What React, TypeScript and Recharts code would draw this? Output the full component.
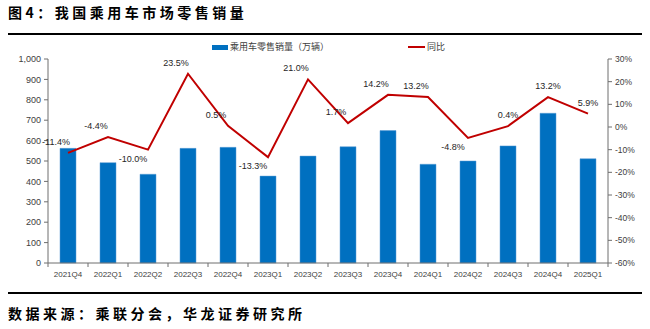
import React from "react";
import { ComposedChart, Bar, Line, XAxis, YAxis, LabelList } from "recharts";

const quarters = [
  "2021Q4", "2022Q1", "2022Q2", "2022Q3", "2022Q4", "2023Q1", "2023Q2",
  "2023Q3", "2023Q4", "2024Q1", "2024Q2", "2024Q3", "2024Q4", "2025Q1",
];
// 乘用车零售销量（万辆）
const retailSales = [562, 492, 435, 562, 567, 426, 524, 570, 649, 484, 500, 574, 734, 511];
// 同比 (%)
const yoyPct = [-11.4, -4.4, -10.0, 23.5, 0.5, -13.3, 21.0, 1.7, 14.2, 13.2, -4.8, 0.4, 13.2, 5.9];
const salesTicks = [0, 100, 200, 300, 400, 500, 600, 700, 800, 900, 1000];
const yoyTicks = [-60, -50, -40, -30, -20, -10, 0, 10, 20, 30];

const data = quarters.map((q, i) => ({ q, sales: retailSales[i], yoy: yoyPct[i] }));

const FONT = "'Liberation Sans', Arial, sans-serif";
const CJK = "'Noto Sans CJK SC', sans-serif";
const AXIS = "#6e6e6e";
const BLUE = "#0070C0";
const RED = "#C00000";
const BAND = 40;

function QuarterTick(props: any) {
  const { x, y, payload, index } = props;
  const last = index === quarters.length - 1;
  return (
    <g>
      <line x1={x - BAND / 2} y1={y - 8} x2={x - BAND / 2} y2={y - 4} stroke={AXIS} />
      {last && <line x1={x + BAND / 2} y1={y - 8} x2={x + BAND / 2} y2={y - 4} stroke={AXIS} />}
      <text x={x} y={y} dy="0.71em" textAnchor="middle" fontSize={8} fill="#404040" fontFamily={FONT}>
        {payload.value}
      </text>
    </g>
  );
}

function YoyLabel(props: any) {
  const { x, y, value, index } = props;
  const prev = yoyPct[index - 1];
  const next = yoyPct[index + 1];
  const below = value < 0 && prev !== undefined && next !== undefined && value < prev && value < next;
  const dx = below ? -15 : index >= 11 ? 0 : -12;
  const dy = below ? 9 : -11;
  return (
    <text x={x + dx} y={y + dy} textAnchor="middle" dominantBaseline="central" fontSize={9} fill="#262626" fontFamily={FONT}>
      {value.toFixed(1)}%
    </text>
  );
}

export default function App() {
  const boldText = { fontFamily: CJK, fontWeight: 700, fontSize: 14, letterSpacing: 3.5, color: "#000", whiteSpace: "nowrap" as const };
  return (
    <div style={{ position: "absolute", left: 0, top: 0, width: 650, height: 329, background: "#fff" }}>
      <div style={{ ...boldText, position: "absolute", left: 8, top: 3, lineHeight: "18px" }}>图4：我国乘用车市场零售销量</div>
      <div style={{ position: "absolute", left: 8, top: 33, width: 634, height: 2, background: "#000" }} />

      <div style={{ position: "absolute", left: 0, top: 40, width: 650, height: 14, fontFamily: CJK, fontSize: 9, color: "#404040" }}>
        <div style={{ position: "absolute", left: 212, top: 5, width: 16, height: 5, background: BLUE }} />
        <div style={{ position: "absolute", left: 230, top: 0, lineHeight: "14px", whiteSpace: "nowrap" }}>乘用车零售销量（万辆）</div>
        <div style={{ position: "absolute", left: 408, top: 6, width: 17, height: 2, background: RED }} />
        <div style={{ position: "absolute", left: 427, top: 0, lineHeight: "14px", whiteSpace: "nowrap" }}>同比</div>
      </div>

      <div style={{ position: "absolute", left: 8, top: 38 }}>
        <ComposedChart width={634} height={250} data={data} margin={{ top: 21, right: 0, bottom: 5, left: 0 }} barSize={16}>
          <XAxis dataKey="q" height={20} stroke={AXIS} tickLine={false} tick={<QuarterTick />} interval={0} />
          <YAxis
            yAxisId="left"
            domain={[0, 1000]}
            ticks={salesTicks}
            width={40}
            stroke={AXIS}
            tickSize={4}
            tickMargin={3}
            tick={{ fill: "#404040", fontSize: 9, fontFamily: FONT }}
            tickFormatter={(v: number) => v.toLocaleString("en-US")}
            interval={0}
          />
          <YAxis
            yAxisId="right"
            orientation="right"
            domain={[-60, 30]}
            ticks={yoyTicks}
            width={34}
            stroke={AXIS}
            tickSize={4}
            tickMargin={3}
            tick={{ fill: "#404040", fontSize: 8.5, fontFamily: FONT }}
            tickFormatter={(v: number) => `${v}%`}
            interval={0}
          />
          <Bar yAxisId="left" dataKey="sales" fill={BLUE} stroke="#5b9bd5" strokeWidth={0.5} isAnimationActive={false} />
          <Line yAxisId="right" type="linear" dataKey="yoy" stroke={RED} strokeWidth={2} dot={false} isAnimationActive={false}>
            <LabelList dataKey="yoy" content={<YoyLabel />} />
          </Line>
        </ComposedChart>
      </div>

      <div style={{ position: "absolute", left: 8, top: 292, width: 634, height: 2, background: "#000" }} />
      <div style={{ ...boldText, position: "absolute", left: 8, top: 304, lineHeight: "18px" }}>数据来源：乘联分会，华龙证券研究所</div>
    </div>
  );
}
